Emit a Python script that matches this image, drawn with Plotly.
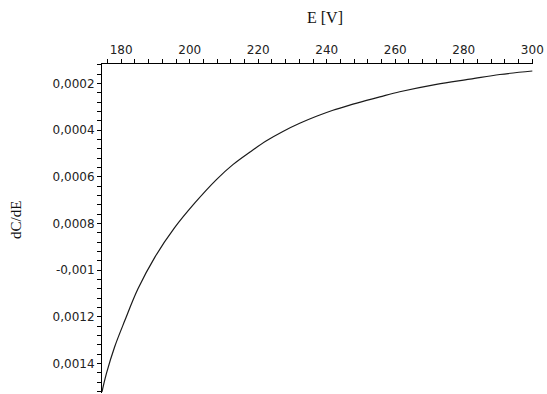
import plotly.graph_objects as go

# Data
E_values = [174.4, 175.7, 178.1, 181.0, 184.9, 189.8, 195.6, 201.5, 207.8,
            212.6, 217.5, 222.4, 227.2, 232.1, 237.0, 241.8, 246.7, 251.6, 255.5,
            261.3, 272.0, 281.8, 290.5, 300.0]
dCdE_values = [-0.001521, -0.001442, -0.001328, -0.001218, -0.001080, -0.000945,
               -0.000818, -0.000712, -0.000612, -0.000548, -0.000495,
               -0.000446, -0.000406, -0.000371, -0.000341, -0.000315, -0.000293,
               -0.000273, -0.000258, -0.000236, -0.000204, -0.000182, -0.000162,
               -0.000147]

x_tick_vals = [180, 200, 220, 240, 260, 280, 300]
y_tick_vals = [-0.0002, -0.0004, -0.0006, -0.0008, -0.0010, -0.0012, -0.0014]
y_tick_text = ["0,0002", "0,0004", "0,0006", "0,0008", "-0,001", "0,0012", "0,0014"]

x_title = "E [V]"
y_title = "dC/dE"

fig = go.Figure()
fig.add_trace(go.Scatter(x=E_values, y=dCdE_values, mode="lines",
                         line=dict(color="#1a1a1a", width=1.2),
                         line_shape="spline", showlegend=False, hoverinfo="skip"))

tick_font = dict(family="DejaVu Sans", size=12, color="#222")

fig.update_layout(
    width=547, height=394,
    margin=dict(l=102, r=14, t=64, b=1),
    paper_bgcolor="white", plot_bgcolor="white",
    xaxis=dict(side="top", range=[174.4, 300.2], tickmode="array", tickvals=x_tick_vals,
               showline=True, linecolor="black", linewidth=1, ticks="outside", ticklen=4,
               tickcolor="black", showgrid=False, zeroline=False, tickfont=tick_font,
               minor=dict(tick0=180, dtick=4, ticks="outside", ticklen=4, tickcolor="black",
                          showgrid=False)),
    yaxis=dict(range=[-0.001526, -0.000117], tickmode="array", tickvals=y_tick_vals,
               ticktext=y_tick_text,
               showline=True, linecolor="black", linewidth=1, ticks="outside", ticklen=4,
               tickcolor="black", showgrid=False, zeroline=False, tickfont=tick_font,
               minor=dict(tick0=0, dtick=0.00004, ticks="outside", ticklen=4,
                          tickcolor="black", showgrid=False)),
    annotations=[
        dict(text=x_title, xref="paper", yref="paper", x=(325 - 102) / 431, y=1 + (64 - 18) / 329,
             showarrow=False, xanchor="center", yanchor="middle",
             font=dict(family="Liberation Serif", size=16, color="#111")),
        dict(text=y_title, xref="paper", yref="paper", x=-(102 - 16) / 431, y=(393 - 220) / 329,
             showarrow=False, xanchor="center", yanchor="middle", textangle=-90,
             font=dict(family="Liberation Serif", size=15, color="#111")),
    ],
)

fig.write_html("out.html")
